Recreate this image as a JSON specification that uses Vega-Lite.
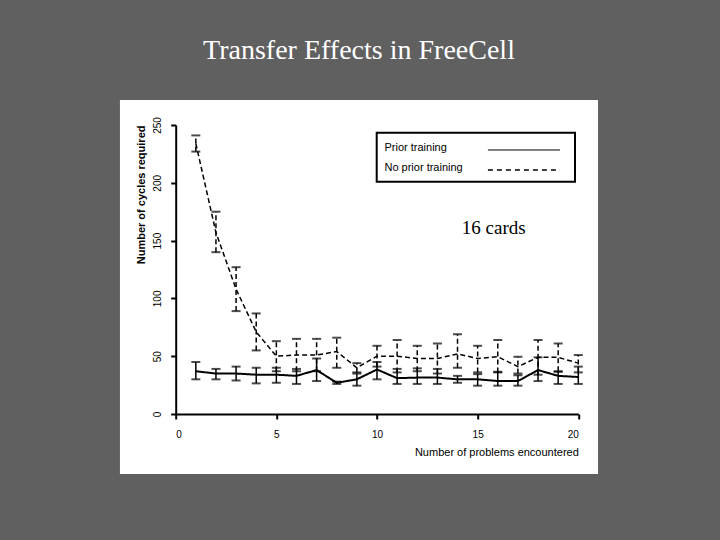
{
  "$schema": "https://vega.github.io/schema/vega-lite/v6.json",
  "width": 402.6,
  "height": 289,
  "autosize": {"type": "none"},
  "padding": {"left": 175.7, "top": 125, "right": 141.7, "bottom": 126},
  "background": "#606060",
  "title": {
    "text": "Transfer Effects in FreeCell",
    "color": "white",
    "font": "Liberation Serif",
    "fontSize": 28,
    "fontWeight": "normal",
    "anchor": "middle",
    "frame": "group",
    "dx": -18,
    "offset": 35
  },
  "config": {
    "view": {"stroke": null},
    "axis": {
      "labelFont": "Liberation Sans",
      "titleFont": "Liberation Sans",
      "labelColor": "black",
      "titleColor": "black",
      "domainColor": "black",
      "tickColor": "black",
      "grid": false
    }
  },
  "data": {
    "values": [
      {"series": "Prior training", "problem": 1, "mean": 37, "lo": 30, "hi": 45},
      {"series": "Prior training", "problem": 2, "mean": 35, "lo": 30, "hi": 39},
      {"series": "Prior training", "problem": 3, "mean": 35, "lo": 29, "hi": 41},
      {"series": "Prior training", "problem": 4, "mean": 34, "lo": 26.5, "hi": 40},
      {"series": "Prior training", "problem": 5, "mean": 34, "lo": 27, "hi": 40},
      {"series": "Prior training", "problem": 6, "mean": 33, "lo": 26, "hi": 39},
      {"series": "Prior training", "problem": 7, "mean": 38, "lo": 28.5, "hi": 48},
      {"series": "Prior training", "problem": 8, "mean": 27, "lo": 26, "hi": 28},
      {"series": "Prior training", "problem": 9, "mean": 30, "lo": 24.5, "hi": 35},
      {"series": "Prior training", "problem": 10, "mean": 38.5, "lo": 30, "hi": 45},
      {"series": "Prior training", "problem": 11, "mean": 31, "lo": 26, "hi": 39},
      {"series": "Prior training", "problem": 12, "mean": 31.5, "lo": 26, "hi": 39.5},
      {"series": "Prior training", "problem": 13, "mean": 31.5, "lo": 26, "hi": 39},
      {"series": "Prior training", "problem": 14, "mean": 30, "lo": 27, "hi": 33},
      {"series": "Prior training", "problem": 15, "mean": 30, "lo": 24.5, "hi": 34.5},
      {"series": "Prior training", "problem": 16, "mean": 28.5, "lo": 24.5, "hi": 36.5},
      {"series": "Prior training", "problem": 17, "mean": 28.5, "lo": 24.5, "hi": 33.5},
      {"series": "Prior training", "problem": 18, "mean": 38, "lo": 28.5, "hi": 49},
      {"series": "Prior training", "problem": 19, "mean": 33, "lo": 26, "hi": 36.5},
      {"series": "Prior training", "problem": 20, "mean": 32, "lo": 26, "hi": 41},
      {"series": "No prior training", "problem": 1, "mean": 234, "lo": 227, "hi": 241},
      {"series": "No prior training", "problem": 2, "mean": 157, "lo": 140, "hi": 175},
      {"series": "No prior training", "problem": 3, "mean": 108, "lo": 89, "hi": 127},
      {"series": "No prior training", "problem": 4, "mean": 71, "lo": 55, "hi": 87},
      {"series": "No prior training", "problem": 5, "mean": 50, "lo": 37, "hi": 63},
      {"series": "No prior training", "problem": 6, "mean": 51, "lo": 37, "hi": 65},
      {"series": "No prior training", "problem": 7, "mean": 51, "lo": 37, "hi": 65},
      {"series": "No prior training", "problem": 8, "mean": 54, "lo": 40, "hi": 66},
      {"series": "No prior training", "problem": 9, "mean": 40, "lo": 36, "hi": 44},
      {"series": "No prior training", "problem": 10, "mean": 50, "lo": 41, "hi": 59},
      {"series": "No prior training", "problem": 11, "mean": 50, "lo": 36, "hi": 64},
      {"series": "No prior training", "problem": 12, "mean": 48, "lo": 37, "hi": 59},
      {"series": "No prior training", "problem": 13, "mean": 48, "lo": 35, "hi": 61},
      {"series": "No prior training", "problem": 14, "mean": 52, "lo": 40, "hi": 69},
      {"series": "No prior training", "problem": 15, "mean": 48, "lo": 36, "hi": 59},
      {"series": "No prior training", "problem": 16, "mean": 49.5, "lo": 36, "hi": 64},
      {"series": "No prior training", "problem": 17, "mean": 41, "lo": 35, "hi": 49.5},
      {"series": "No prior training", "problem": 18, "mean": 49, "lo": 34, "hi": 64},
      {"series": "No prior training", "problem": 19, "mean": 49, "lo": 37, "hi": 61},
      {"series": "No prior training", "problem": 20, "mean": 44, "lo": 36, "hi": 51}
    ]
  },
  "layer": [
    {
      "data": {"values": [{"panel": "frame"}]},
      "mark": {"type": "rect", "fill": "white", "stroke": null},
      "encoding": {
        "x": {"datum": -2.77, "type": "quantitative", "scale": {"domain": [0, 20], "nice": false, "zero": false}},
        "x2": {"datum": 20.98},
        "y": {"datum": -51.9, "type": "quantitative", "scale": {"domain": [0, 250], "nice": false, "zero": false}},
        "y2": {"datum": 271.6}
      }
    },
    {
      "data": {"values": [{"panel": "legend"}]},
      "mark": {"type": "rect", "fill": "white", "stroke": "black", "strokeWidth": 2},
      "encoding": {
        "x": {"datum": 9.985, "type": "quantitative"},
        "x2": {"datum": 19.836},
        "y": {"datum": 200.9, "type": "quantitative"},
        "y2": {"datum": 243.3}
      }
    },
    {
      "data": {"values": [{"series": "Prior training"}]},
      "mark": {"type": "text", "font": "Liberation Sans", "fontSize": 11, "color": "black", "align": "left", "baseline": "middle"},
      "encoding": {
        "text": {"field": "series", "type": "nominal"},
        "x": {"datum": 10.37, "type": "quantitative"},
        "y": {"datum": 229.8, "type": "quantitative"}
      }
    },
    {
      "data": {"values": [{"series": "No prior training"}]},
      "mark": {"type": "text", "font": "Liberation Sans", "fontSize": 11, "color": "black", "align": "left", "baseline": "middle"},
      "encoding": {
        "text": {"field": "series", "type": "nominal"},
        "x": {"datum": 10.37, "type": "quantitative"},
        "y": {"datum": 212.8, "type": "quantitative"}
      }
    },
    {
      "data": {"values": [{"series": "Prior training"}]},
      "mark": {"type": "rule", "color": "black", "strokeWidth": 1},
      "encoding": {
        "x": {"datum": 15.51, "type": "quantitative"},
        "x2": {"datum": 19.09},
        "y": {"datum": 228.4, "type": "quantitative"}
      }
    },
    {
      "data": {"values": [{"series": "No prior training"}]},
      "mark": {"type": "rule", "color": "black", "strokeWidth": 1.5, "strokeDash": [5, 4]},
      "encoding": {
        "x": {"datum": 15.51, "type": "quantitative"},
        "x2": {"datum": 19.09},
        "y": {"datum": 211.1, "type": "quantitative"}
      }
    },
    {
      "mark": {"type": "rule", "color": "black", "strokeWidth": 1.5},
      "encoding": {
        "x": {"field": "problem", "type": "quantitative"},
        "y": {"field": "lo", "type": "quantitative"},
        "y2": {"field": "hi"},
        "strokeDash": {"field": "series", "type": "nominal", "legend": null}
      }
    },
    {
      "mark": {"type": "tick", "orient": "horizontal", "color": "black", "size": 9, "thickness": 2},
      "encoding": {
        "x": {"field": "problem", "type": "quantitative"},
        "y": {"field": "lo", "type": "quantitative"}
      }
    },
    {
      "mark": {"type": "tick", "orient": "horizontal", "color": "black", "size": 9, "thickness": 2},
      "encoding": {
        "x": {"field": "problem", "type": "quantitative"},
        "y": {"field": "hi", "type": "quantitative"}
      }
    },
    {
      "mark": {"type": "line", "color": "black"},
      "encoding": {
        "x": {
          "field": "problem",
          "type": "quantitative",
          "axis": {
            "zindex": 1,
            "values": [0, 5, 10, 15, 20],
            "title": "Number of problems encountered",
            "titleAnchor": "end",
            "titleFontWeight": "normal",
            "titleFontSize": 11,
            "titlePadding": 7,
            "labelFontSize": 10,
            "labelPadding": 10,
            "tickSize": 5,
            "tickWidth": 2,
            "domainWidth": 2
          }
        },
        "y": {
          "field": "mean",
          "type": "quantitative",
          "axis": {
            "zindex": 1,
            "values": [0, 50, 100, 150, 200, 250],
            "title": "Number of cycles required",
            "titleAnchor": "end",
            "titleFontWeight": "bold",
            "titleFontSize": 11,
            "titlePadding": 6,
            "labelAngle": -90,
            "labelFontSize": 10,
            "labelPadding": 8,
            "tickSize": 5,
            "tickWidth": 2,
            "domainWidth": 2
          }
        },
        "strokeDash": {
          "field": "series",
          "type": "nominal",
          "scale": {"domain": ["Prior training", "No prior training"], "range": [[1, 0], [5, 3]]},
          "legend": null
        },
        "strokeWidth": {
          "field": "series",
          "type": "nominal",
          "scale": {"domain": ["Prior training", "No prior training"], "range": [2, 1.5]},
          "legend": null
        }
      }
    },
    {
      "data": {"values": [{"label": "16 cards"}]},
      "mark": {"type": "text", "font": "Liberation Serif", "fontSize": 19, "color": "black", "align": "center", "baseline": "middle"},
      "encoding": {
        "text": {"field": "label", "type": "nominal"},
        "x": {"datum": 15.8, "type": "quantitative"},
        "y": {"datum": 161, "type": "quantitative"}
      }
    }
  ]
}
